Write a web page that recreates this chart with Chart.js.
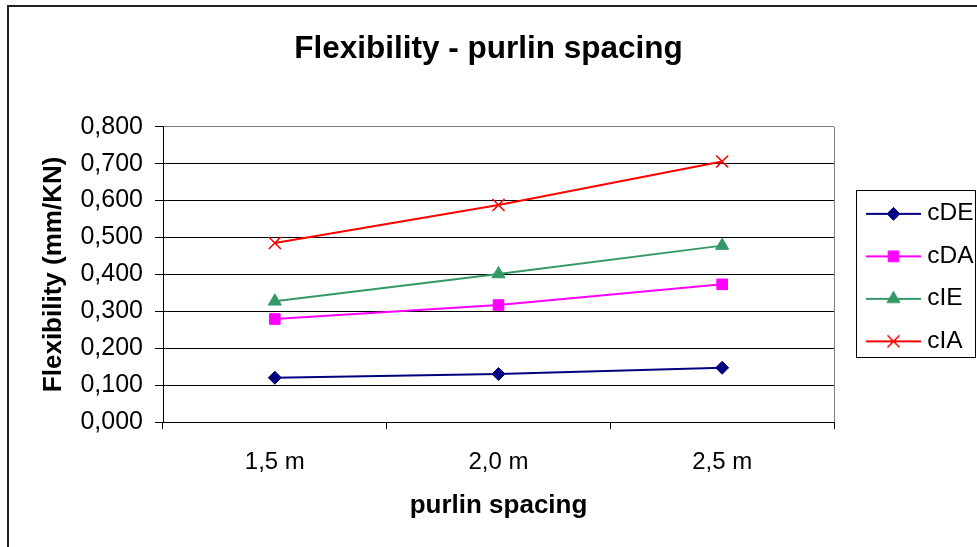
<!DOCTYPE html>
<html><head><meta charset="utf-8">
<script src="https://cdn.jsdelivr.net/npm/chart.js@4/dist/chart.umd.min.js"></script>
<style>html,body{margin:0;padding:0;background:#fff;}#wrap{width:977px;height:547px;position:relative}</style>
</head><body><div id="wrap"><canvas id="c" width="977" height="547"></canvas></div>
<script>
const categories = ['1,5 m', '2,0 m', '2,5 m'];
const seriesNames = ['cDE', 'cDA', 'cIE', 'cIA'];
const cDE = [0.120, 0.130, 0.147];
const cDA = [0.279, 0.317, 0.373];
const cIE = [0.327, 0.401, 0.478];
const cIA = [0.485, 0.588, 0.706];
const yTickLabels = ['0,000', '0,100', '0,200', '0,300', '0,400', '0,500', '0,600', '0,700', '0,800'];
const titleText = 'Flexibility - purlin spacing';
const xTitleText = 'purlin spacing';
const yTitleText = 'Flexibility (mm/KN)';

const seriesValues = [cDE, cDA, cIE, cIA];
const styles = [
  {color: '#000080', point: 'rectRot', r: 6.5, bw: 1},
  {color: '#FF00FF', point: 'rect', r: 7.5, bw: 1},
  {color: '#339966', point: 'triangle', r: 7.5, bw: 1},
  {color: '#FF0000', point: 'crossRot', r: 8.5, bw: 1.6}
];

Chart.defaults.font.family = "'Liberation Sans', Arial, sans-serif";
Chart.defaults.color = '#000';

function makeLegendImage(s) {
  const c = document.createElement('canvas');
  c.width = 75; c.height = 21;
  const g = c.getContext('2d');
  const cx = 47.5, cy = 11;
  g.strokeStyle = s.color; g.lineWidth = 2;
  g.beginPath(); g.moveTo(cx - 27.5, cy); g.lineTo(cx + 27.5, cy); g.stroke();
  g.fillStyle = s.color; g.strokeStyle = s.color; g.lineWidth = s.bw;
  Chart.helpers.drawPoint(g, {pointStyle: s.point, radius: s.r, rotation: 0, borderWidth: s.bw}, cx, cy);
  return c;
}
const legendImages = styles.map(makeLegendImage);

const datasets = seriesNames.map((name, i) => ({
  label: name,
  data: seriesValues[i],
  borderColor: styles[i].color,
  backgroundColor: styles[i].color,
  borderWidth: 2,
  pointStyle: styles[i].point,
  pointRadius: styles[i].r,
  pointHoverRadius: styles[i].r,
  pointBackgroundColor: styles[i].color,
  pointBorderColor: styles[i].color,
  pointBorderWidth: styles[i].bw,
  tension: 0,
  fill: false
}));

const decor = {
  id: 'decor',
  beforeDraw(chart) {
    const ctx = chart.ctx;
    ctx.save(); ctx.fillStyle = '#fff'; ctx.fillRect(0, 0, chart.width, chart.height); ctx.restore();
  },
  afterDraw(chart) {
    const ctx = chart.ctx, a = chart.chartArea;
    ctx.save();
    ctx.strokeStyle = '#808080'; ctx.lineWidth = 1;
    ctx.beginPath(); ctx.moveTo(a.right + 0.5, a.top); ctx.lineTo(a.right + 0.5, a.bottom); ctx.stroke();
    ctx.strokeStyle = '#222'; ctx.lineWidth = 2;
    ctx.beginPath(); ctx.moveTo(8, chart.height); ctx.lineTo(8, 6); ctx.lineTo(chart.width, 6); ctx.stroke();
    ctx.strokeStyle = '#000'; ctx.lineWidth = 1;
    ctx.strokeRect(856.5, 190.5, 119, 167);
    ctx.restore();
  }
};

new Chart(document.getElementById('c'), {
  type: 'line',
  data: {labels: categories, datasets},
  plugins: [decor],
  options: {
    responsive: false,
    animation: false,
    devicePixelRatio: 1,
    layout: {padding: 0},
    plugins: {
      title: {
        display: true, text: titleText, color: '#000',
        font: {size: 31.5, weight: 'bold'},
        padding: {top: 30, bottom: 59}
      },
      legend: {
        position: 'right', align: 'center', maxWidth: 143,
        title: {display: true, text: ' ', font: {size: 6}, padding: 0},
        labels: {
          usePointStyle: true, pointStyleWidth: 63, padding: 18,
          color: '#000', font: {size: 24.5},
          generateLabels: (chart) => chart.data.datasets.map((ds, i) => ({
            text: ds.label, pointStyle: legendImages[i], fillStyle: ds.borderColor,
            strokeStyle: ds.borderColor, lineWidth: 0, hidden: false, datasetIndex: i, fontColor: '#000'
          }))
        }
      },
      tooltip: {enabled: false}
    },
    scales: {
      x: {
        offset: true,
        grid: {offset: true, drawOnChartArea: false, drawTicks: true, tickLength: 7, color: '#000'},
        border: {color: '#000', width: 1},
        ticks: {padding: 19, color: '#000', font: {size: 24}, maxRotation: 0},
        title: {display: true, text: xTitleText, color: '#000', font: {size: 26, weight: 'bold'}, padding: {top: 0, bottom: 26}},
        afterFit: (s) => { s.height = 125; }
      },
      y: {
        min: 0, max: 0.8,
        ticks: {stepSize: 0.1, padding: 12, color: '#000', font: {size: 25}, callback: (v, i) => yTickLabels[i]},
        grid: {
          color: (c) => (c.tick && c.tick.value > 0.79 ? '#808080' : '#000'),
          tickColor: '#000', lineWidth: 1, tickLength: 8, drawTicks: true
        },
        border: {color: '#000', width: 1},
        title: {display: true, text: yTitleText, color: '#000', font: {size: 26, weight: 'bold'}, padding: {top: 38, bottom: 0}},
        afterFit: (s) => { s.width = 163; }
      }
    }
  }
});
</script>
</body></html>
